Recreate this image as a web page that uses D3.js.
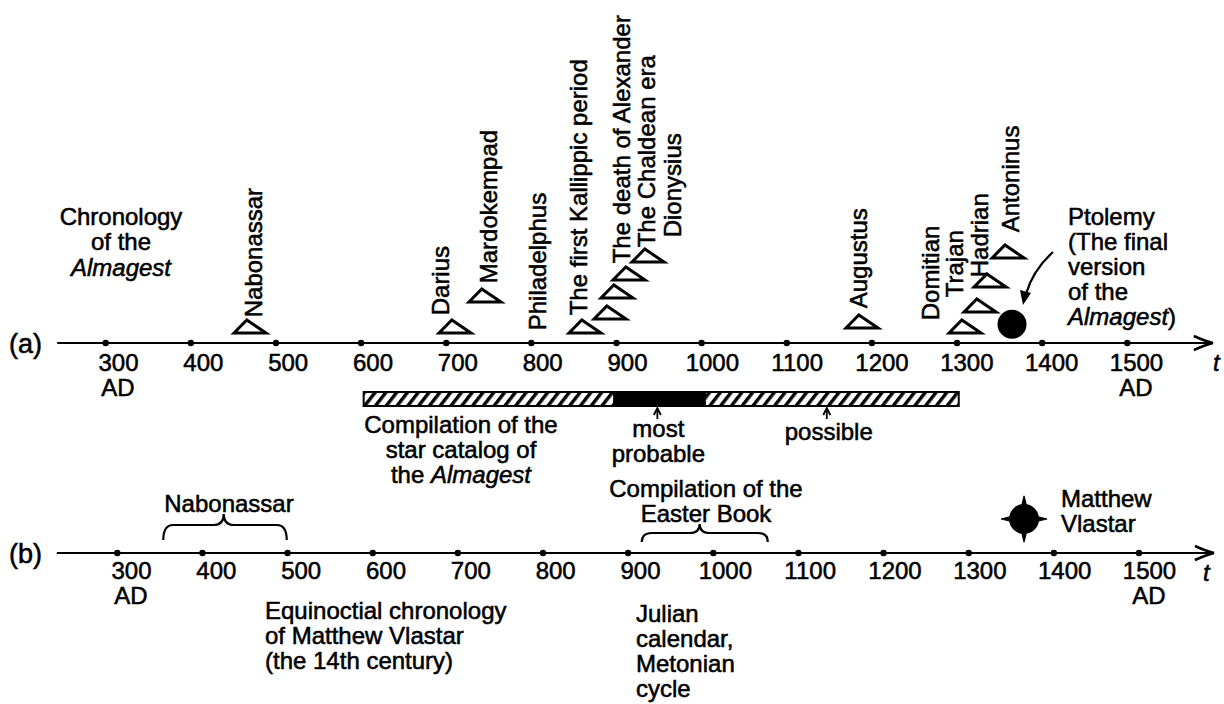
<!DOCTYPE html>
<html><head><meta charset="utf-8">
<script src="https://cdn.jsdelivr.net/npm/d3@7"></script>
<style>
html,body{margin:0;padding:0;background:#fff;}
svg text{font-family:"Liberation Sans",Arial,Helvetica,sans-serif;font-size:24px;fill:#000;stroke:#000;stroke-width:0.55px;}
</style></head><body>
<svg id="chart" width="1224" height="704"></svg>
<script>
// ---------- data ----------
const tickYears = [300,400,500,600,700,800,900,1000,1100,1200,1300,1400,1500];
const tickLabels = ["300","400","500","600","700","800","900","1000","1100","1200","1300","1400","1500"];
const adYears = [300,1500];

// (a) triangles: year and vertical stacking level above the axis
const triYears = [469.5,710.3,745.5,863,892.4,900.6,914.7,937,1188.4,1309.4,1327,1338.8,1360];
const triLevels = [10,10,41,10,24,45,63,81,15,10,31,56,85];

// (a) rotated event labels
const eventNames = ["Nabonassar","Darius","Mardokempad","Philadelphus","The first Kallippic period",
  "The death of Alexander","The Chaldean era","Dionysius","Augustus","Domitian","Trajan","Hadrian","Antoninus"];
const eventYears = [474.3,693.9,749.7,807.8,855.8,906.3,935.7,966.3,1184.8,1269.4,1297.6,1327,1363.4];
const eventLevels = [25.7,27.7,59.7,12.7,27.7,79.7,95.7,105.7,34.7,22.7,45.7,65.7,110.7];

// Ptolemy point
const ptolemyYear = 1364.6, ptolemyLevel = 18.7;

// star catalog compilation bar
const catalogRange = [603,1302];
const probableRange = [896,1005];
const mostProbableYear = 948, possibleYear = 1147;

// (b) braces and Vlastar
const nabonassarBrace = [354,425,499];   // start, peak, end
const easterBrace = [916,984,1064];
const vlastarYear = 1365, vlastarLevel = 34;

// ---------- layout ----------
const svg = d3.select("#chart");
const AY = 343, BY = 553;
const xa = d3.scaleLinear().domain([300,1500]).range([105.7,1127.3]);
const xaLab = d3.scaleLinear().domain([300,1500]).range([118,1136]);
const xb = d3.scaleLinear().domain([300,1500]).range([117.3,1139]);
const xbLab = d3.scaleLinear().domain([300,1500]).range([131,1149]);
const ya = d3.scaleLinear().domain([0,100]).range([AY, AY-100]);
const yb = d3.scaleLinear().domain([0,100]).range([BY, BY-100]);

// hatch pattern
const defs = svg.append("defs");
const pat = defs.append("pattern").attr("id","hatch").attr("patternUnits","userSpaceOnUse")
  .attr("width",8.5).attr("height",9).attr("patternTransform","rotate(38)");
pat.append("rect").attr("width",8.5).attr("height",9).attr("fill","#fff");
pat.append("rect").attr("width",3.4).attr("height",9).attr("fill","#000");

function drawAxis(x, xl, y, ext, lab, labPad, tLab) {
  const g = svg.append("g");
  const x0 = x(ext[0]), x1 = x(ext[1]);
  g.append("line").attr("x1",x0).attr("x2",x1-3).attr("y1",y).attr("y2",y)
    .attr("stroke","#000").attr("stroke-width",2.2);
  g.append("path").attr("d",`M${x1-19},${y-7} Q${x1-8},${y-2} ${x1},${y} Q${x1-8},${y+2} ${x1-19},${y+7}`)
    .attr("fill","none").attr("stroke","#000").attr("stroke-width",2.6);
  g.selectAll("circle.tick").data(tickYears).join("circle").attr("class","tick")
    .attr("cx",d=>x(d)).attr("cy",y).attr("r",3.2).attr("fill","#000");
  const ax = d3.axisBottom(xl).tickValues(tickYears).tickSize(0).tickPadding(labPad)
    .tickFormat((d,i)=>tickLabels[i]);
  const ag = svg.append("g").attr("transform",`translate(0,${y})`).call(ax);
  ag.select(".domain").remove();
  ag.attr("font-size",null).attr("font-family",null);
  ag.selectAll("text").style("font-size","24px").style("font-family",'"Liberation Sans",Arial,sans-serif');
  svg.selectAll(null).data(adYears).join("text").attr("x",d=>xl(d)).attr("y",y+labPad+17+25)
    .attr("text-anchor","middle").text("AD");
  svg.append("text").attr("x",9).attr("y",y+9.5).style("font-size","27px").text(lab);
  svg.append("text").attr("x",tLab[0]).attr("y",tLab[1]).attr("font-style","italic").text("t");
}
drawAxis(xa, xaLab, AY, [243,1600.5], "(a)", 11, [1213,371]);
drawAxis(xb, xbLab, BY, [229,1588], "(b)", 9, [1203,581]);

// triangles
const tw = 32, th = 13;
svg.selectAll("path.tri").data(triYears).join("path").attr("class","tri")
  .attr("d",(d,i)=>{const cx=xa(d), by=ya(triLevels[i]);
    return `M${cx-tw/2},${by} L${cx-tw/2+0.4*tw},${by-th} L${cx+tw/2},${by} Z`;})
  .attr("fill","#fff").attr("stroke","#000").attr("stroke-width",3).attr("stroke-linejoin","miter");

// rotated labels
svg.selectAll("text.ev").data(eventNames).join("text").attr("class","ev")
  .attr("transform",(d,i)=>`translate(${xa(eventYears[i])},${ya(eventLevels[i])}) rotate(-90)`)
  .attr("dy","0.35em").text(d=>d);

// Ptolemy dot
svg.append("circle").attr("cx",xa(ptolemyYear)).attr("cy",ya(ptolemyLevel)).attr("r",14.5).attr("fill","#000");
// Ptolemy arrow
svg.append("path").attr("d","M1053,252 Q1033,270 1026,294").attr("fill","none").attr("stroke","#000").attr("stroke-width",2.2);
svg.append("path").attr("d","M1023,305 L1020,290 L1031,293 Z").attr("fill","#000");

// text blocks
function block(x, ys, lines, anchor) {
  lines.forEach((ln,i)=>{
    const t = svg.append("text").attr("x",x).attr("y",ys[i]).attr("text-anchor",anchor||"start");
    ln.forEach(seg=>{ t.append("tspan").attr("font-style",seg[1]?"italic":null).text(seg[0]); });
  });
}
block(121,[225,250,276],[[["Chronology"]],[["of the"]],[["Almagest",1]]],"middle");
block(1068,[225,250,275,300,325],[[["Ptolemy"]],[["(The final"]],[["version"]],[["of the"]],[["Almagest",1],[")"]]]);

// catalog bar
const barY = 392, barH = 14;
svg.append("rect").attr("x",xa(catalogRange[0])).attr("y",barY).attr("width",xa(catalogRange[1])-xa(catalogRange[0]))
  .attr("height",barH).attr("fill","url(#hatch)");
svg.append("rect").attr("x",xa(probableRange[0])).attr("y",barY).attr("width",xa(probableRange[1])-xa(probableRange[0]))
  .attr("height",barH).attr("fill","#000");
svg.append("rect").attr("x",xa(catalogRange[0])).attr("y",barY).attr("width",xa(catalogRange[1])-xa(catalogRange[0]))
  .attr("height",barH).attr("fill","none").attr("stroke","#000").attr("stroke-width",2);

// small arrows
[mostProbableYear, possibleYear].forEach(yr=>{
  const x = xa(yr);
  svg.append("line").attr("x1",x).attr("x2",x).attr("y1",410).attr("y2",419).attr("stroke","#000").attr("stroke-width",1.8);
  svg.append("path").attr("d",`M${x-3.5},${415} L${x},${408} L${x+3.5},${415}`).attr("fill","none").attr("stroke","#000").attr("stroke-width",1.8);
});
block(xa(mostProbableYear)+1,[437,462],[[["most"]],[["probable"]]],"middle");
block(xa(possibleYear)+2,[440],[[["possible"]]],"middle");
block(461,[433,458,483],[[["Compilation of the"]],[["star catalog of"]],[["the "],["Almagest",1]]],"middle");

// braces (b)
function brace(r, top, mid, bot) {
  const x1 = xb(r[0]), xm = xb(r[1]), x2 = xb(r[2]), q = 10;
  return `M${x1},${bot} Q${x1},${mid} ${x1+q},${mid} L${xm-q},${mid} Q${xm},${mid} ${xm},${top}` +
         ` Q${xm},${mid} ${xm+q},${mid} L${x2-q},${mid} Q${x2},${mid} ${x2},${bot}`;
}
svg.append("path").attr("d",brace(nabonassarBrace,514,525,540)).attr("fill","none").attr("stroke","#000").attr("stroke-width",2.2);
svg.append("path").attr("d",brace(easterBrace,524,533,542)).attr("fill","none").attr("stroke","#000").attr("stroke-width",2.2);
block(229,[512],[[["Nabonassar"]]],"middle");
block(706,[497,522],[[["Compilation of the"]],[["Easter Book"]]],"middle");

// Vlastar symbol
const vx = xb(vlastarYear), vy = yb(vlastarLevel);
svg.append("circle").attr("cx",vx).attr("cy",vy).attr("r",15).attr("fill","#000");
const sp = 23, sw = 2.6;
svg.append("path").attr("d",
  `M${vx-sw},${vy-12} L${vx},${vy-sp} L${vx+sw},${vy-12} Z M${vx-sw},${vy+12} L${vx},${vy+sp} L${vx+sw},${vy+12} Z ` +
  `M${vx-12},${vy-sw} L${vx-sp},${vy} L${vx-12},${vy+sw} Z M${vx+12},${vy-sw} L${vx+sp},${vy} L${vx+12},${vy+sw} Z`)
  .attr("fill","#000").attr("stroke","#000").attr("stroke-width",1.2);
block(1061,[507,532],[[["Matthew"]],[["Vlastar"]]]);

block(265,[619,644,669],[[["Equinoctial chronology"]],[["of Matthew Vlastar"]],[["(the 14th century)"]]]);
block(636,[622,647,672,697],[[["Julian"]],[["calendar,"]],[["Metonian"]],[["cycle"]]]);
</script>
</body></html>
